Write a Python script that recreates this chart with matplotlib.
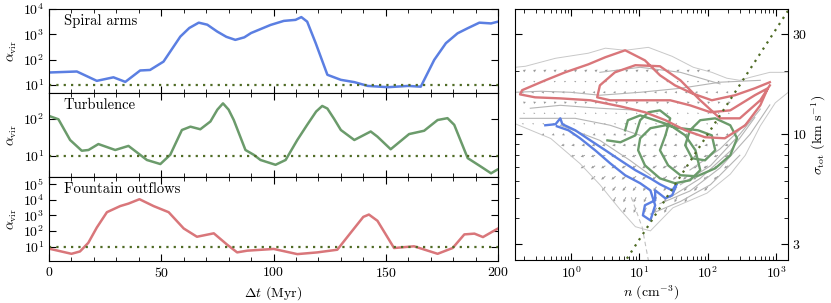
import matplotlib
matplotlib.use("Agg")
import matplotlib.pyplot as plt
import numpy as np
from matplotlib import ticker
from matplotlib.path import Path

plt.rcParams['font.family'] = 'serif'
plt.rcParams['font.serif'] = ['cmr10']
plt.rcParams['mathtext.fontset'] = 'cm'
plt.rcParams['axes.unicode_minus'] = False
plt.rcParams['axes.formatter.use_mathtext'] = True
plt.rcParams['font.size'] = 10

BLUE = '#5b7fe2'
GREEN = '#6b9b6b'
RED = '#d9767a'
DOTS = '#4f6b25'

# --- left panels: log10(alpha_vir) against Delta t (Myr) ---
spiral_t = [0, 12.4, 21.3, 28.7, 34, 40.6, 45, 51, 58.5, 62.5, 66.7, 70.5, 74.9, 79,
            83, 87, 90, 98.7, 104.6, 109.8, 112.4, 115, 118.8, 124, 130, 136, 142,
            151, 160, 165.6, 171.6, 176.8, 182, 186.5, 191.7, 196.9, 200]
spiral_log = [1.49, 1.53, 1.16, 1.30, 1.12, 1.57, 1.59, 1.92, 2.91, 3.25, 3.46, 3.38,
              3.11, 2.90, 2.78, 2.88, 3.05, 3.37, 3.53, 3.57, 3.68, 3.50, 2.65, 1.40,
              1.20, 1.11, 0.96, 0.91, 0.96, 0.93, 1.99, 2.65, 3.04, 3.24, 3.46, 3.43,
              3.50]

turb_t = [0, 4.2, 9.4, 14.6, 17.6, 22, 29.5, 35.4, 43.6, 49.6, 54, 59.2, 63, 67.4,
          71.9, 75, 77.5, 80, 82.3, 87.5, 91.2, 94.2, 100.9, 105.4, 110.6, 115, 119,
          121.7, 124, 127, 130, 136, 143.3, 146.3, 152.2, 160.4, 167.1, 173.1, 177.5,
          180.5, 186.5, 192.4, 196.9, 200]
turb_log = [2.08, 1.99, 1.43, 1.14, 1.16, 1.32, 1.16, 1.27, 0.89, 0.78, 1.03, 1.70,
            1.79, 1.72, 1.93, 2.25, 2.42, 2.25, 1.97, 1.16, 1.03, 0.89, 0.76, 0.89,
            1.43, 1.84, 2.20, 2.35, 2.28, 2.00, 1.70, 1.43, 1.66, 1.52, 1.18, 1.59,
            1.68, 1.97, 2.02, 1.84, 0.94, 0.71, 0.53, 0.64]

fount_t = [0, 10, 13.8, 17.5, 21.3, 25.8, 31.7, 35.4, 40.3, 46.6, 53.3, 60, 65.9,
           73.4, 79.3, 83.8, 88.3, 100.1, 110.6, 119.5, 128.4, 134.4, 140, 142.5,
           146.3, 153.7, 162.6, 173.1, 179.8, 185, 189.5, 193.3, 200]
fount_log = [0.87, 0.54, 0.69, 1.24, 2.22, 3.20, 3.59, 3.75, 4.03, 3.59, 3.20, 2.16,
             1.63, 1.85, 1.13, 0.63, 0.74, 0.85, 0.52, 0.63, 0.80, 1.89, 2.90, 3.05,
             2.65, 0.91, 1.02, 0.54, 0.91, 1.78, 1.83, 1.61, 2.16]

panels = [
    ("Spiral arms", spiral_t, spiral_log, BLUE, (0.68, 4.0)),
    ("Turbulence", turb_t, turb_log, GREEN, (0.43, 2.7)),
    ("Fountain outflows", fount_t, fount_log, RED, (0.08, 5.45)),
]

# --- right panel: trajectories in (log10 n, log10 sigma) ---
red_ln = [2.91, 2.69, 2.40, 2.06, 1.77, 1.52, 1.30, 1.08, 0.79, 0.50, 0.25, -0.09,
          -0.38, -0.72, -0.75, -0.53, -0.16, 0.28, 0.72, 1.08, 1.38, 1.67, 1.96, 2.25,
          2.55, 2.77, 2.88, 2.69, 2.33, 2.04, 1.74, 1.45, 1.01, 0.57, 0.38, 0.42, 0.64,
          0.94, 1.30, 1.60, 1.89, 2.18, 2.47, 2.77, 2.91]
red_ls = [1.248, 1.219, 1.186, 1.162, 1.195, 1.233, 1.281, 1.352, 1.400, 1.367, 1.333,
          1.295, 1.257, 1.210, 1.190, 1.176, 1.171, 1.162, 1.133, 1.105, 1.067, 1.019,
          0.986, 0.981, 1.043, 1.138, 1.219, 1.186, 1.114, 1.105, 1.138, 1.162, 1.162,
          1.162, 1.176, 1.233, 1.295, 1.329, 1.324, 1.257, 1.162, 1.076, 1.076, 1.162,
          1.233]

blue_ln = [-0.38, -0.23, -0.16, -0.13, 0.06, 0.28, 0.50, 0.72, 0.94, 1.16, 1.30, 1.48,
           1.55, 1.48, 1.38, 1.23, 1.23, 1.08, 1.05, 1.16, 1.23, 1.16, 1.01, 0.79, 0.57,
           0.35, 0.13, -0.04, -0.21]
blue_ls = [1.043, 1.048, 1.076, 1.048, 1.019, 0.971, 0.924, 0.876, 0.829, 0.790, 0.762,
           0.733, 0.767, 0.710, 0.695, 0.733, 0.686, 0.662, 0.614, 0.590, 0.662, 0.733,
           0.767, 0.805, 0.862, 0.924, 0.981, 1.019, 1.038]

green_ln = [0.53, 0.72, 0.94, 1.01, 1.13, 1.30, 1.45, 1.38, 1.30, 1.42, 1.60, 1.84,
            2.11, 2.33, 2.43, 2.33, 2.11, 1.89, 1.74, 1.67, 1.77, 1.96, 2.11, 2.06,
            1.86, 1.60, 1.38, 1.16, 1.01, 0.98, 1.08, 1.30, 1.52, 1.74, 1.89, 1.82,
            1.67, 1.45, 1.23, 1.01, 0.83, 0.79]
green_ls = [0.971, 0.962, 0.995, 1.067, 1.105, 1.114, 1.076, 0.995, 0.924, 0.852, 0.805,
            0.800, 0.838, 0.900, 0.981, 1.043, 1.076, 1.067, 1.019, 0.948, 0.886, 0.876,
            0.924, 0.995, 1.019, 1.029, 1.043, 1.029, 0.981, 0.924, 0.852, 0.790, 0.767,
            0.781, 0.829, 0.924, 0.995, 1.043, 1.067, 1.090, 1.067, 1.019]

# outline of the sampled region (log10 n, log10 sigma)
outline_ln = [-0.82, -0.67, -0.23, 0.25, 0.50, 0.79, 1.13, 1.48, 1.79, 2.06, 2.28, 2.47,
              2.62, 2.91, 3.18, 3.18, 2.99, 2.77, 2.55, 2.33, 1.99, 1.49, 1.16, 0.94,
              0.72, 0.42, 0.13, -0.30, -0.82]
outline_ls = [1.319, 1.324, 1.362, 1.386, 1.410, 1.400, 1.414, 1.371, 1.319, 1.295,
              1.267, 1.257, 1.271, 1.295, 1.295, 1.20, 1.15, 1.04, 0.90, 0.81, 0.72,
              0.65, 0.54, 0.56, 0.64, 0.76, 0.86, 0.98, 1.05]

# thin grey flow lines
grey_lines = [
    ([-0.82, -0.45, -0.01, 0.42, 1.01, 1.60, 2.18, 2.77], [1.200, 1.205, 1.200, 1.186, 1.200, 1.219, 1.248, 1.257]),
    ([-0.60, -0.16, 0.42, 1.01], [1.124, 1.138, 1.124, 1.114]),
    ([-0.75, -0.38, 0.06, 0.57, 1.01], [1.076, 1.076, 1.076, 1.043, 0.995]),
    ([-0.16, 0.42, 0.86, 1.16], [1.043, 0.971, 0.876, 0.805]),
    ([1.30, 1.74, 2.18, 2.62, 2.91], [0.67, 0.73, 0.84, 1.00, 1.14]),
    ([1.45, 1.89, 2.33, 2.69], [0.70, 0.79, 0.92, 1.08]),
    ([1.60, 2.04, 2.47, 2.77], [0.76, 0.85, 1.00, 1.12]),
    ([1.74, 2.18, 2.62], [0.83, 0.93, 1.07]),
    ([1.16, 1.60, 2.04, 2.47], [0.62, 0.68, 0.76, 0.90]),
    ([0.42, 1.01, 1.60, 2.18], [1.295, 1.319, 1.295, 1.240]),
]
dashed_ln = [0.88, 1.04, 1.13]
dashed_ls = [0.70, 0.557, 0.40]

# arrow directions per sigma row (log10 sigma)
row_ls = [0.65, 0.70, 0.75, 0.80, 0.85, 0.90, 0.95, 1.00, 1.05, 1.10, 1.15, 1.20, 1.25, 1.30]
row_u = [-0.3, -0.3, -0.4, -0.5, -0.5, -0.5, -0.4, -0.3, -0.2, 0.2, 0.3, -0.3, 0.2, 0.3]
row_v = [-0.6, -0.6, -0.5, -0.4, -0.3, -0.2, -0.1, -0.1, 0.0, 0.0, 0.1, 0.0, 0.1, 0.2]

fig = plt.figure(figsize=(8.31, 3.03), dpi=100)

left, width, h = 49 / 831, 449 / 831, 84 / 303
bottoms = [1 - 93 / 303, 1 - 177 / 303, 1 - 261 / 303]

for i, (name, t, logs, col, ylog) in enumerate(panels):
    ax = fig.add_axes([left, bottoms[i], width, h])
    ax.plot(t, 10 ** np.array(logs), color=col, lw=1.8, solid_capstyle='round',
            solid_joinstyle='round')
    ax.axhline(10, color=DOTS, lw=1.6, ls=(0, (1, 2.3)))
    ax.set_yscale('log')
    ax.set_xlim(0, 200)
    ax.set_ylim(10 ** ylog[0], 10 ** ylog[1])
    ax.xaxis.set_major_locator(ticker.MultipleLocator(50))
    ax.xaxis.set_minor_locator(ticker.MultipleLocator(10))
    ax.yaxis.set_major_locator(ticker.LogLocator(base=10, numticks=10))
    ax.yaxis.set_minor_locator(ticker.NullLocator())
    ax.tick_params(which='both', direction='in', top=True, right=True, labelsize=10)
    ax.tick_params(which='major', length=5)
    ax.tick_params(which='minor', length=3)
    ax.set_ylabel(r'$\alpha_{\rm vir}$', fontsize=10, labelpad=3)
    ax.text(0.033, 0.94, name, transform=ax.transAxes, ha='left', va='top', fontsize=10.5)
    if i < 2:
        ax.tick_params(labelbottom=False)
    else:
        ax.set_xlabel(r'$\Delta t$ (Myr)', fontsize=10, labelpad=3)

# right panel
axr = fig.add_axes([515 / 831, 1 - 260 / 303, 273 / 831, 251 / 303])
axr.set_xscale('log')
axr.set_yscale('log')

ol = np.array(outline_ln)
os_ = np.array(outline_ls)
axr.plot(10 ** ol, 10 ** os_, color='#c8c8c8', lw=0.7)
for ln, ls in grey_lines:
    axr.plot(10 ** np.array(ln), 10 ** np.array(ls), color='#b5b5b5', lw=0.8)
axr.plot(10 ** np.array(dashed_ln), 10 ** np.array(dashed_ls), color='#c0c0c0', lw=0.8, ls=(0, (4, 3)))

# quiver field on a grid inside the outline
region = Path(np.column_stack([ol, os_]))
gx = np.arange(-0.7, 2.4, 0.15)
X, Y, U, V = [], [], [], []
for ls, u, v in zip(row_ls, row_u, row_v):
    for lx in gx:
        if region.contains_point((lx, ls)):
            X.append(10 ** lx)
            Y.append(10 ** ls)
            U.append(u)
            V.append(v)
axr.quiver(X, Y, U, V, color='#9a9a9a', angles='uv', scale_units='inches', scale=12,
           width=0.0035, headwidth=3, headlength=3, headaxislength=2.7)

axr.plot(10 ** np.array(blue_ln), 10 ** np.array(blue_ls), color=BLUE, lw=1.7, solid_joinstyle='round')
axr.plot(10 ** np.array(green_ln), 10 ** np.array(green_ls), color=GREEN, lw=1.7, solid_joinstyle='round')
axr.plot(10 ** np.array(red_ln), 10 ** np.array(red_ls), color=RED, lw=1.7, solid_joinstyle='round')

n_line = np.array([5.0, 2000.0])
axr.plot(n_line, np.sqrt(n_line), color=DOTS, lw=1.6, ls=(0, (1, 2.3)), zorder=5)

axr.set_xlim(0.15, 1500)
axr.set_ylim(2.52, 39.5)
axr.yaxis.set_major_locator(ticker.FixedLocator([3, 10, 30]))
axr.yaxis.set_major_formatter(ticker.FixedFormatter(['3', '10', '30']))
axr.yaxis.set_minor_locator(ticker.FixedLocator([4, 5, 6, 7, 8, 9, 20]))
axr.yaxis.set_minor_formatter(ticker.NullFormatter())
axr.xaxis.set_major_locator(ticker.LogLocator(base=10, numticks=10))
axr.xaxis.set_minor_locator(ticker.LogLocator(base=10, subs=np.arange(2, 10), numticks=20))
axr.xaxis.set_minor_formatter(ticker.NullFormatter())
axr.tick_params(which='both', direction='in', top=True, right=True, left=True,
                labelleft=False, labelright=True, labelsize=10)
axr.tick_params(which='major', length=5)
axr.tick_params(which='minor', length=3)
axr.yaxis.set_label_position('right')
axr.set_ylabel(r'$\sigma_{\rm tot}$ (km s$^{-1}$)', fontsize=10, labelpad=2)
axr.set_xlabel(r'$n$ (cm$^{-3}$)', fontsize=10, labelpad=2)

fig.savefig('out.png', dpi=100)
